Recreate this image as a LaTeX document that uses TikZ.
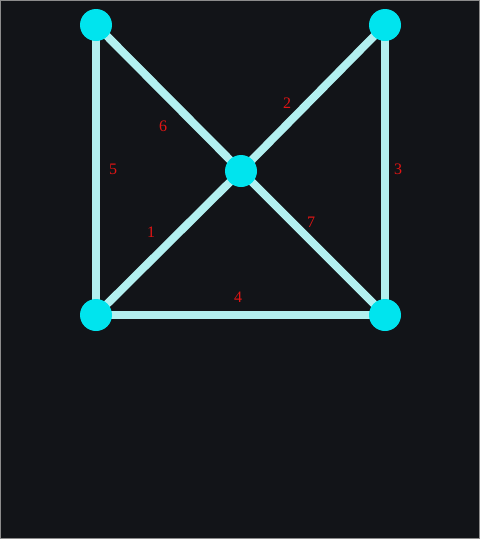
\documentclass[tikz,border=0pt]{standalone}
\usepackage{fontspec}
\setmainfont{Liberation Serif}
\definecolor{bgdark}{RGB}{18,20,24}
\definecolor{vertcyan}{RGB}{0,228,238}
\definecolor{edgecyan}{RGB}{178,240,240}
\definecolor{labred}{RGB}{225,20,20}
\definecolor{framegray}{RGB}{140,140,140}
\pgfdeclarelayer{bglayer}
\pgfdeclarelayer{edgelayer}
\pgfsetlayers{bglayer,edgelayer,main}
\tikzset{
  vert/.style={circle, fill=vertcyan, draw=none, minimum size=32pt, inner sep=0pt},
  edge/.style={draw=edgecyan, line width=8pt},
  lab/.style={text=labred, font=\fontsize{16}{16}\selectfont, inner sep=0pt}
}
\begin{document}
\begin{tikzpicture}[x=1pt,y=-1pt]
\begin{pgfonlayer}{bglayer}
\fill[bgdark] (0,0) rectangle (480,539);
\draw[framegray, line width=1.2pt] (0.6,0.6) rectangle (479.4,538.4);
\end{pgfonlayer}
\useasboundingbox (0,0) rectangle (480,539);
\node[vert] (tl) at (96,25) {};
\node[vert] (tr) at (385,25) {};
\node[vert] (c) at (241,171) {};
\node[vert] (bl) at (96,315) {};
\node[vert] (br) at (385,315) {};
\begin{pgfonlayer}{edgelayer}
\draw[edge] (tl.center) -- (bl.center);
\draw[edge] (tl.center) -- (c.center);
\draw[edge] (c.center) -- (tr.center);
\draw[edge] (tr.center) -- (br.center);
\draw[edge] (bl.center) -- (c.center);
\draw[edge] (c.center) -- (br.center);
\draw[edge] (bl.center) -- (br.center);
\end{pgfonlayer}
\node[lab] (l6) at (163,126) {6};
\node[lab] (l2) at (287,103) {2};
\node[lab] (l5) at (113,169) {5};
\node[lab] (l3) at (398,169) {3};
\node[lab] (l1) at (151,232) {1};
\node[lab] (l7) at (311,222) {7};
\node[lab] (l4) at (238,297) {4};
\end{tikzpicture}
\end{document}
